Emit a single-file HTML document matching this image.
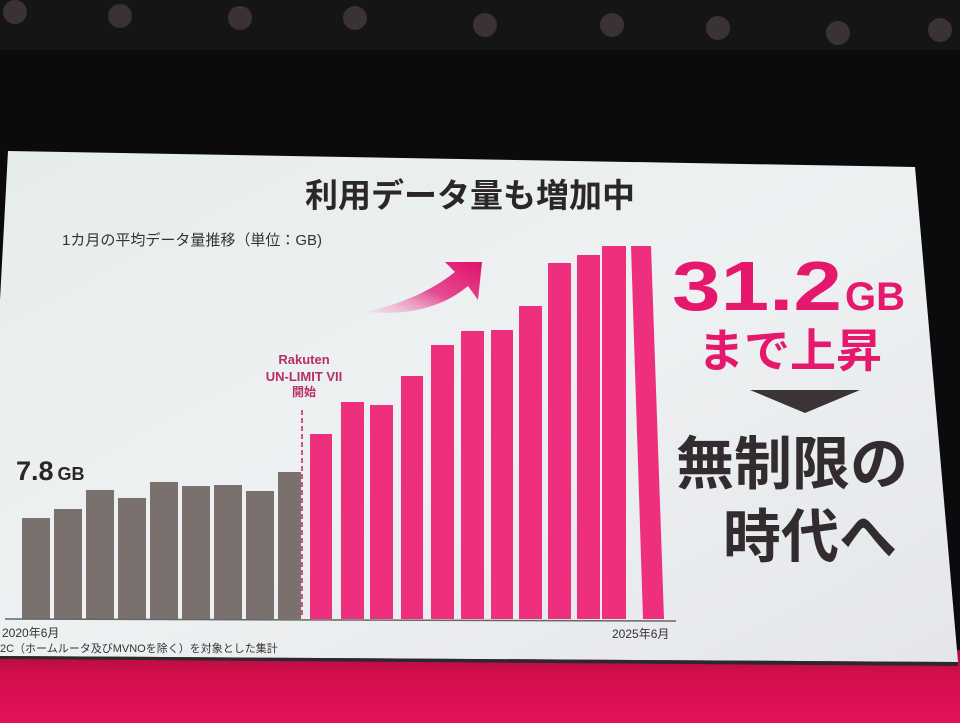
<!DOCTYPE html>
<html><head><meta charset="utf-8"><style>
html,body{margin:0;padding:0;background:#0a0a0c;}
svg{display:block}
text{font-family:"Liberation Sans","Noto Sans CJK JP",sans-serif;}
</style></head><body>
<svg width="960" height="723" viewBox="0 0 960 723" xmlns="http://www.w3.org/2000/svg">
<defs>
<linearGradient id="floor" x1="0" y1="0" x2="0" y2="1">
<stop offset="0" stop-color="#a80f3a"/><stop offset="0.3" stop-color="#d00e4c"/><stop offset="1" stop-color="#e2125a"/>
</linearGradient>
<linearGradient id="scr" x1="0" y1="0" x2="1" y2="1">
<stop offset="0" stop-color="#e6ecec"/><stop offset="0.5" stop-color="#eef1f2"/><stop offset="1" stop-color="#e4e6ea"/>
</linearGradient>
<linearGradient id="arr" x1="0" y1="1" x2="1" y2="0">
<stop offset="0" stop-color="#f5c8dd" stop-opacity="0.3"/><stop offset="0.5" stop-color="#e44a92"/><stop offset="1" stop-color="#e0126a"/>
</linearGradient>
</defs>
<rect width="960" height="723" fill="#0b0b0d"/>
<rect x="0" y="0" width="960" height="50" fill="#151417"/>
<g fill="#3a3236">
<circle cx="15" cy="12" r="12"/><circle cx="120" cy="16" r="12"/><circle cx="240" cy="18" r="12"/><circle cx="355" cy="18" r="12"/><circle cx="485" cy="25" r="12"/><circle cx="612" cy="25" r="12"/><circle cx="718" cy="28" r="12"/><circle cx="838" cy="33" r="12"/><circle cx="940" cy="30" r="12"/>
</g>
<rect x="0" y="650" width="960" height="73" fill="url(#floor)"/>
<polygon points="8,151 915,167 958,662 0,656 0,300" fill="url(#scr)"/>
<polygon points="0,656 958,662 958,666 0,659" fill="#2a2a2e"/>
<text x="470" y="207" text-anchor="middle" font-size="33" font-weight="bold" fill="#2b2628">利用データ量も増加中</text>
<text x="62" y="245" font-size="15" fill="#333">1カ月の平均データ量推移（単位：GB)</text>
<g fill="#7a716f">
<rect x="22" y="518" width="28" height="101"/><rect x="54" y="509" width="28" height="110"/><rect x="86" y="490" width="28" height="129"/><rect x="118" y="498" width="28" height="121"/><rect x="150" y="482" width="28" height="137"/><rect x="182" y="486" width="28" height="133"/><rect x="214" y="485" width="28" height="134"/><rect x="246" y="491" width="28" height="128"/><rect x="278" y="472" width="23" height="147"/>
</g>
<g fill="#ee2f7d">
<rect x="310" y="434" width="22" height="185"/><rect x="341" y="402" width="23" height="217"/><rect x="370" y="405" width="23" height="214"/><rect x="401" y="376" width="22" height="243"/><rect x="431" y="345" width="23" height="274"/><rect x="461" y="331" width="23" height="288"/><rect x="491" y="330" width="22" height="289"/><rect x="519" y="306" width="23" height="313"/><rect x="548" y="263" width="23" height="356"/><rect x="577" y="255" width="23" height="364"/><rect x="602" y="246" width="24" height="373"/><polygon points="631,246 651,246 664,619 643,619"/>
</g>
<line x1="5" y1="619" x2="676" y2="621" stroke="#666" stroke-width="1.5"/>
<line x1="302" y1="410" x2="302" y2="617" stroke="#c02060" stroke-width="1.5" stroke-dasharray="5,3"/>
<text x="304" y="364" text-anchor="middle" font-size="13" font-weight="bold" fill="#b72e6a">Rakuten</text>
<text x="304" y="381" text-anchor="middle" font-size="13" font-weight="bold" fill="#b72e6a">UN-LIMIT VII</text>
<text x="304" y="396" text-anchor="middle" font-size="12" font-weight="bold" fill="#b72e6a">開始</text>
<text x="16" y="480" font-size="27" font-weight="bold" fill="#2b2628">7.8<tspan font-size="18" dx="4">GB</tspan></text>
<path d="M365,312 Q420,300 455,272 L445,262 L482,262 L478,300 L468,286 Q430,318 365,312 Z" fill="url(#arr)"/>
<text x="2" y="637" font-size="12" fill="#333">2020年6月</text>
<text x="612" y="638" font-size="12" fill="#333">2025年6月</text>
<text x="0" y="652" font-size="11" fill="#333">2C（ホームルータ及びMVNOを除く）を対象とした集計</text>
<text x="672" y="310" font-size="70" font-weight="bold" fill="#e6186e" textLength="170" lengthAdjust="spacingAndGlyphs">31.2</text>
<text x="845" y="310" font-size="40" font-weight="bold" fill="#e6186e">GB</text>
<text x="790" y="367" text-anchor="middle" font-size="46" font-weight="bold" fill="#e6186e">まで上昇</text>
<polygon points="750,390 860,390 805,413" fill="#3a3436"/>
<text x="792" y="484" text-anchor="middle" font-size="58" font-weight="bold" fill="#332c2e">無制限の</text>
<text x="810" y="557" text-anchor="middle" font-size="58" font-weight="bold" fill="#332c2e">時代へ</text>
</svg>
</body></html>
